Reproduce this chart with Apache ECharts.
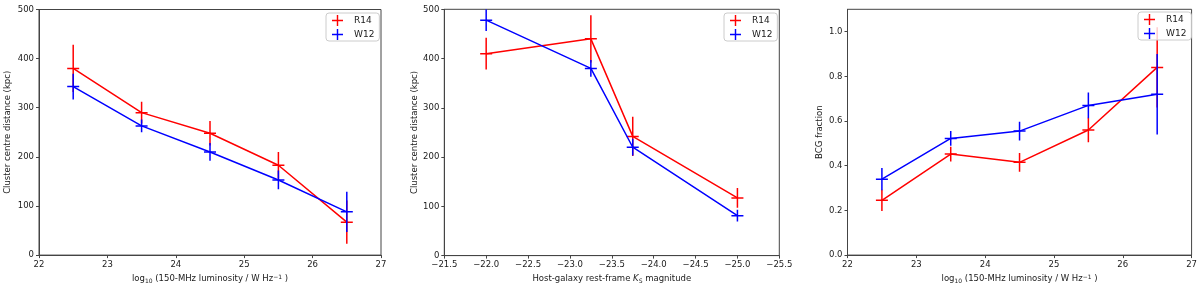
<!DOCTYPE html>
<html><head><meta charset="utf-8">
<script src="https://cdn.jsdelivr.net/npm/echarts@6/dist/echarts.min.js"></script>
<style>html,body{margin:0;padding:0;background:#fff}#c{width:1200px;height:289px}</style>
</head><body><div id="c"></div>
<script>
// ---- data ----
const lumX = [22.5, 23.5, 24.5, 25.5, 26.5];
const magX = [-22.0, -23.25, -23.75, -25.0];

const p1R14 = [380, 290, 248, 183, 67];
const p1R14err = [48, 22, 25, 27, 44];
const p1W12 = [343, 263, 210, 153, 88];
const p1W12err = [26, 13, 18, 19, 41];

const p2R14 = [410, 440, 242, 117];
const p2R14err = [32, 48, 40, 20];
const p2W12 = [478, 380, 220, 81];
const p2W12err = [22, 17, 17, 12];

const p3R14 = [0.245, 0.452, 0.415, 0.56, 0.84];
const p3R14err = [0.048, 0.033, 0.042, 0.055, 0.18];
const p3W12 = [0.34, 0.522, 0.555, 0.67, 0.72];
const p3W12err = [0.05, 0.033, 0.042, 0.058, 0.18];

const p3YTicks = [0, 0.2, 0.4, 0.6, 0.8, 1.0];
const seriesNames = ['R14', 'W12'];
// ---------------

const RED = '#ff0000', BLUE = '#0000ff';
const FONT = 'DejaVu Sans';
const FS = 8.5;
const AX = '#444';
const TXT = '#1a1a1a';
const chart = echarts.init(document.getElementById('c'), null, {renderer: 'canvas'});

const grids = [
  {left: 39, top: 9.5, width: 342, height: 247},
  {left: 444.3, top: 9.3, width: 335, height: 249},
  {left: 847.5, top: 9.3, width: 344.8, height: 247}
].map(g => Object.assign(g, {show: true, borderColor: AX, borderWidth: 1, containLabel: false}));

const lumName = 'log{sub|10} (150-MHz luminosity / W Hz{sup|−1} )';
const richSub = {
  sub: {fontSize: 6, fontFamily: FONT, color: TXT, padding: [4, 0, 0, 0]},
  sup: {fontSize: 6, fontFamily: FONT, color: TXT, padding: [0, 0, 4, 0]},
  it: {fontSize: FS, fontFamily: FONT, color: TXT, fontStyle: 'italic'}
};

function fmtMinus(v, d) {
  const s = Math.abs(v).toFixed(d);
  return (v < 0 ? '\u2212' : '') + s;
}

function xAxisBase(idx, extra) {
  return Object.assign({
    type: 'value', gridIndex: idx,
    nameLocation: 'middle', nameGap: 17,
    nameTextStyle: {fontFamily: FONT, fontSize: FS, color: TXT, rich: richSub},
    axisLine: {show: true, onZero: false, lineStyle: {color: AX, width: 1}},
    axisTick: {show: true, length: 3, lineStyle: {color: AX}},
    axisLabel: {fontFamily: FONT, fontSize: FS, color: TXT, margin: 5},
    splitLine: {show: false}
  }, extra);
}
function yAxisBase(idx, extra) {
  return Object.assign({
    type: 'value', gridIndex: idx,
    nameLocation: 'middle',
    nameTextStyle: {fontFamily: FONT, fontSize: FS, color: TXT},
    axisLine: {show: true, onZero: false, lineStyle: {color: AX, width: 1}},
    axisTick: {show: true, length: 3, lineStyle: {color: AX}},
    axisLabel: {fontFamily: FONT, fontSize: FS, color: TXT, margin: 5},
    splitLine: {show: false}
  }, extra);
}

const xAxes = [
  xAxisBase(0, {min: 22, max: 27, interval: 1, name: lumName}),
  xAxisBase(1, {min: -25.5, max: -21.5, interval: 0.5, inverse: true,
    name: 'Host-galaxy rest-frame {it|K}{sub|S} magnitude',
    axisLabel: {fontFamily: FONT, fontSize: FS, color: TXT, margin: 5, formatter: v => fmtMinus(v, 1)}}),
  xAxisBase(2, {min: 22, max: 27, interval: 1, name: lumName})
];
const yAxes = [
  yAxisBase(0, {min: 0, max: 500, interval: 100, name: 'Cluster centre distance (kpc)', nameGap: 27}),
  yAxisBase(1, {min: 0, max: 500, interval: 100, name: 'Cluster centre distance (kpc)', nameGap: 25}),
  yAxisBase(2, {min: 0, max: 1.1, name: 'BCG fraction', nameGap: 23,
    axisTick: {show: true, length: 3, lineStyle: {color: AX}, customValues: p3YTicks},
    axisLabel: {fontFamily: FONT, fontSize: FS, color: TXT, margin: 5, customValues: p3YTicks, formatter: v => v.toFixed(1)}})
];

function errRender(color) {
  return function (params, api) {
    const x = api.value(0), y = api.value(1), e = api.value(2);
    const c = api.coord([x, y]);
    const top = api.coord([x, y + e]);
    const bot = api.coord([x, y - e]);
    const st = {stroke: color, lineWidth: 1.5};
    return {
      type: 'group',
      children: [
        {type: 'line', shape: {x1: c[0], y1: top[1], x2: c[0], y2: bot[1]}, style: st},
        {type: 'line', shape: {x1: c[0] - 6, y1: c[1], x2: c[0] + 6, y2: c[1]}, style: st}
      ]
    };
  };
}

const series = [];
function addPair(idx, xs, ys, es, name, color, z) {
  series.push({
    type: 'line', name: name, xAxisIndex: idx, yAxisIndex: idx,
    data: xs.map((x, i) => [x, ys[i]]),
    showSymbol: false, symbol: 'none', lineStyle: {color: color, width: 1.5}, itemStyle: {color: color},
    z: z, silent: true, animation: false
  });
  series.push({
    type: 'custom', name: name, xAxisIndex: idx, yAxisIndex: idx,
    data: xs.map((x, i) => [x, ys[i], es[i]]),
    renderItem: errRender(color), clip: true, itemStyle: {color: color},
    z: z, silent: true, animation: false,
    encode: {x: 0, y: 1}
  });
}
addPair(0, lumX, p1R14, p1R14err, 'R14', RED, 2);
addPair(0, lumX, p1W12, p1W12err, 'W12', BLUE, 3);
addPair(1, magX, p2R14, p2R14err, 'R14', RED, 2);
addPair(1, magX, p2W12, p2W12err, 'W12', BLUE, 3);
addPair(2, lumX, p3R14, p3R14err, 'R14', RED, 2);
addPair(2, lumX, p3W12, p3W12err, 'W12', BLUE, 3);

const crossIcon = 'path://M0,4.35H10V5.65H0Z M4.35,0H5.65V10H4.35Z';
function legendAt(left, top) {
  return {
    left: left, top: top, orient: 'vertical', itemGap: 3, itemWidth: 11, itemHeight: 11,
    padding: [2, 5, 1, 6],
    backgroundColor: 'rgba(255,255,255,0.8)', borderColor: '#ccc', borderWidth: 1, borderRadius: 3,
    textStyle: {fontFamily: FONT, fontSize: 9, color: TXT, padding: [0, 0, 0, 6]},
    selectedMode: false, z: 10,
    data: seriesNames.map((n, i) => ({name: n, icon: crossIcon, itemStyle: {color: i === 0 ? RED : BLUE}}))
  };
}

chart.setOption({
  animation: false,
  backgroundColor: '#fff',
  grid: grids,
  xAxis: xAxes,
  yAxis: yAxes,
  legend: [legendAt(326, 13), legendAt(724, 13), legendAt(1138, 12)],
  series: series
});
</script></body></html>
